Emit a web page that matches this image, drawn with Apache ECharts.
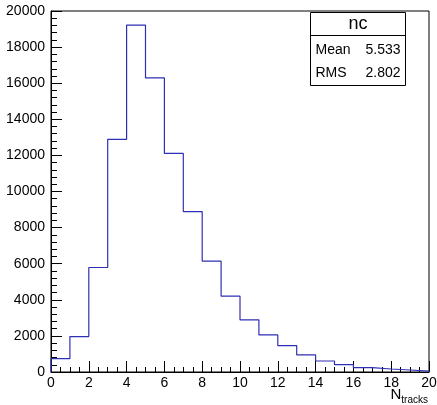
<!DOCTYPE html>
<html>
<head>
<meta charset="utf-8">
<script src="https://cdn.jsdelivr.net/npm/echarts@6/dist/echarts.min.js"></script>
<style>
  html, body { margin: 0; padding: 0; background: #fff; }
  #chart { width: 437px; height: 405px; }
</style>
</head>
<body>
<div id="chart"></div>
<script>
// histogram "nc": one count per unit bin from 0 to 20
const binLow = [0, 1, 2, 3, 4, 5, 6, 7, 8, 9, 10, 11, 12, 13, 14, 15, 16, 17, 18, 19];
const binCounts = [740, 1960, 5790, 12890, 19220, 16290, 12110, 8890, 6140, 4200,
  2890, 2055, 1460, 944, 610, 405, 240, 165, 110, 50];
const binWidth = 1;
const statsTitle = "nc";
const statsRows = [["Mean", "5.533"], ["RMS", "2.802"]];

// step outline: start on the baseline, run along each bin top, drop back at the end
const outline = [[binLow[0], 0]];
binLow.forEach((x, i) => outline.push([x, binCounts[i]]));
const lastEdge = binLow[binLow.length - 1] + binWidth;
outline.push([lastEdge, binCounts[binCounts.length - 1]]);
outline.push([lastEdge, 0]);

const font = "'Liberation Sans', Arial, sans-serif";

const chart = echarts.init(document.getElementById("chart"));
chart.setOption({
  animation: false,
  backgroundColor: "#fff",
  grid: {
    left: 51, right: 8, top: 11, bottom: 33,
    show: true, borderColor: "#000", borderWidth: 1,
    outerBoundsMode: "none",
  },
  xAxis: {
    type: "value",
    min: 0, max: 20, interval: 2,
    axisLine: { lineStyle: { color: "#000", width: 1 } },
    axisTick: { inside: true, length: 11, lineStyle: { color: "#000" } },
    minorTick: { show: true, splitNumber: 4, length: 5, lineStyle: { color: "#000" } },
    splitLine: { show: false },
    axisLabel: { color: "#000", fontFamily: font, fontSize: 14, margin: 4 },
  },
  yAxis: {
    type: "value",
    min: 0, max: 20000, interval: 2000,
    axisLine: { show: true, lineStyle: { color: "#000", width: 1 } },
    axisTick: { show: true, inside: true, length: 11, lineStyle: { color: "#000" } },
    minorTick: { show: true, splitNumber: 5, length: 6, lineStyle: { color: "#000" } },
    splitLine: { show: false },
    axisLabel: { color: "#000", fontFamily: font, fontSize: 14, margin: 6,
      formatter: (v) => String(v) },
  },
  series: [{
    type: "line",
    step: "end",
    data: outline,
    symbol: "none",
    lineStyle: { color: "#2f2fb4", width: 1.2 },
    z: 3,
  }],
  graphic: [{
    type: "group",
    left: 308,
    top: 12,
    children: [
      { type: "rect", shape: { x: 0, y: 0, width: 95, height: 73 },
        style: { fill: "#fff", stroke: "#000", lineWidth: 1 } },
      { type: "line", shape: { x1: 0, y1: 23, x2: 95, y2: 23 }, style: { stroke: "#000", lineWidth: 1 } },
      { type: "text", x: 47.5, y: 12,
        style: { text: statsTitle, fontFamily: font, fontSize: 18, fill: "#000", align: "center", verticalAlign: "middle" } },
      ...statsRows.flatMap((row, i) => [
        { type: "text", x: 5, y: 38 + i * 23,
          style: { text: row[0], fontFamily: font, fontSize: 14, fill: "#000", align: "left", verticalAlign: "middle" } },
        { type: "text", x: 90, y: 38 + i * 23,
          style: { text: row[1], fontFamily: font, fontSize: 14, fill: "#000", align: "right", verticalAlign: "middle" } },
      ]),
    ],
  }, {
    type: "text",
    right: 9,
    top: 387,
    style: {
      text: "{n|N}{s|tracks}",
      rich: {
        n: { fontFamily: font, fontSize: 15, lineHeight: 15, verticalAlign: "top", fill: "#000" },
        s: { fontFamily: font, fontSize: 10, lineHeight: 10, padding: [8, 0, 0, 0], verticalAlign: "top", fill: "#000" },
      },
    },
  }],
});
</script>
</body>
</html>
